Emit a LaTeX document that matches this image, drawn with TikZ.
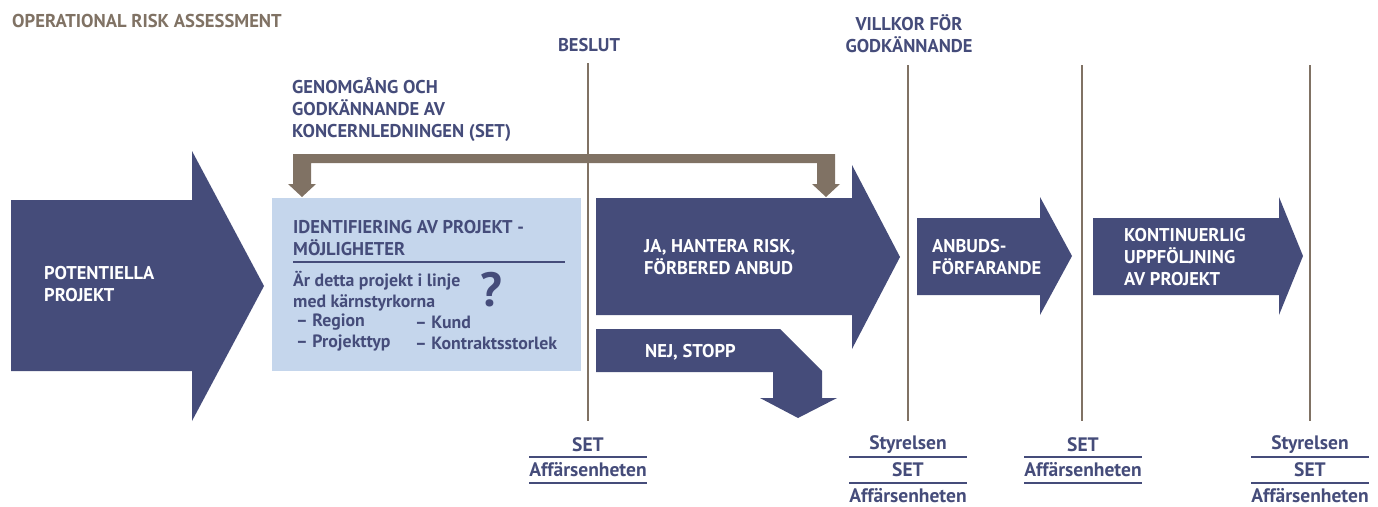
\documentclass[tikz,border=0pt]{standalone}
\usepackage{fontspec}
\setmainfont{PT Sans}
\usepackage{tikz}
\usepackage{xcolor}
\usetikzlibrary{positioning,calc}
\definecolor{riskNavy}{RGB}{69,76,122}
\definecolor{riskBrown}{RGB}{128,114,100}
\definecolor{riskSky}{RGB}{197,214,236}

\begin{document}
\begin{tikzpicture}[x=1pt,y=-1pt,
    txt/.style={font=\bfseries\fontsize{18.5}{22}\selectfont, inner sep=0pt, align=left},
    head/.style={txt, text=riskNavy},
    body/.style={head, anchor=west, font=\bfseries\fontsize{17.8}{21.5}\selectfont},
    onarrow/.style={txt, text=white, anchor=west},
    role/.style={txt, text=riskNavy, font=\bfseries\fontsize{19.5}{20}\selectfont},
    rolerule/.style={riskNavy, line width=1.3pt}]
    \useasboundingbox (0,0) rectangle (1378,506);
    \node[txt, text=riskBrown, anchor=west, font=\bfseries\fontsize{18.6}{20}\selectfont] (title) at (12,21) {OPERATIONAL RISK ASSESSMENT};
    \foreach \x/\t in {588/63, 908/65, 1082/65, 1310/65}
        \draw[riskBrown, line width=2.5pt] (\x,\t) -- (\x,421);
    \node[head] (beslut) at (589,45) {BESLUT};
    \node[head, align=center] (villkor) at (909,34) {VILLKOR FÖR\\GODKÄNNANDE};
    \node[head, anchor=west] (genomgang) at (292,110) {GENOMGÅNG OCH\\GODKÄNNANDE AV\\KONCERNLEDNINGEN (SET)};
    \fill[riskBrown] (293,184) -- (293,154) -- (835,154) -- (835,184) -- (840,184) -- (826,197) -- (812,184) -- (817,184)
        -- (817,163) -- (311,163) -- (311,184) -- (316,184) -- (302,197) -- (288,184) -- cycle;
    \fill[riskNavy] (11,200) -- (192,200) -- (192,151) -- (264,286) -- (192,421) -- (192,371) -- (11,371) -- cycle;
    \node[onarrow] (potentiella) at (44,284) {POTENTIELLA\\PROJEKT};
    \fill[riskSky] (272,198) rectangle (581,371);
    \node[head, anchor=west] (identifiering) at (293,238) {IDENTIFIERING AV PROJEKT -\\MÖJLIGHETER};
    \draw[riskNavy, line width=1.2pt] (293,262) -- (565,262);
    \node[body] (fraga) at (293,291) {Är detta projekt i linje\\med kärnstyrkorna};
    \node[body] (region) at (296,322) {– Region};
    \node[body] (projekttyp) at (296,343) {– Projekttyp};
    \node[body] (kund) at (415,322) {– Kund};
    \node[body] (storlek) at (415,343) {– Kontraktsstorlek};
    \node[head, font=\bfseries\fontsize{48}{48}\selectfont] (qmark) at (491,290) {?};
    \fill[riskNavy] (596,198) -- (852,198) -- (852,165) -- (900,257) -- (852,349) -- (852,315) -- (596,315) -- cycle;
    \node[onarrow] (ja) at (644,257) {JA, HANTERA RISK,\\FÖRBERED ANBUD};
    \fill[riskNavy] (596,329) -- (780,329) -- (822,371) -- (822,398) -- (837,398) -- (798,418) -- (760,398) -- (773,398)
        -- (773,372) -- (596,372) -- cycle;
    \node[onarrow] (nej) at (645,352) {NEJ, STOPP};
    \fill[riskNavy] (917,218) -- (1040,218) -- (1040,197) -- (1072,256) -- (1040,315) -- (1040,295) -- (917,295) -- cycle;
    \node[onarrow] (anbud) at (932,257) {ANBUDS-\\FÖRFARANDE};
    \fill[riskNavy] (1093,218) -- (1279,218) -- (1279,197) -- (1303,256) -- (1279,315) -- (1279,295) -- (1093,295) -- cycle;
    \node[onarrow] (kontinuerlig) at (1124,257) {KONTINUERLIG\\UPPFÖLJNING\\AV PROJEKT};
    \foreach \x/\n in {588/a, 1083/c} {
        \node[role] (set\n) at (\x,445) {SET};
        \node[role] (aff\n) at (\x,470) {Affärsenheten};
        \draw[rolerule] ([yshift=13pt]aff\n.west) -- ([yshift=13pt]aff\n.east);
        \draw[rolerule] ([yshift=-13pt]aff\n.west) -- ([yshift=-13pt]aff\n.east);
    }
    \foreach \x/\n in {908/b, 1310/d} {
        \node[role] (styr\n) at (\x,445) {Styrelsen};
        \node[role] (set\n) at (\x,470) {SET};
        \node[role] (aff\n) at (\x,496) {Affärsenheten};
        \draw[rolerule] ([yshift=39pt]aff\n.west) -- ([yshift=39pt]aff\n.east);
        \draw[rolerule] ([yshift=13pt]aff\n.west) -- ([yshift=13pt]aff\n.east);
    }
\end{tikzpicture}
\end{document}
